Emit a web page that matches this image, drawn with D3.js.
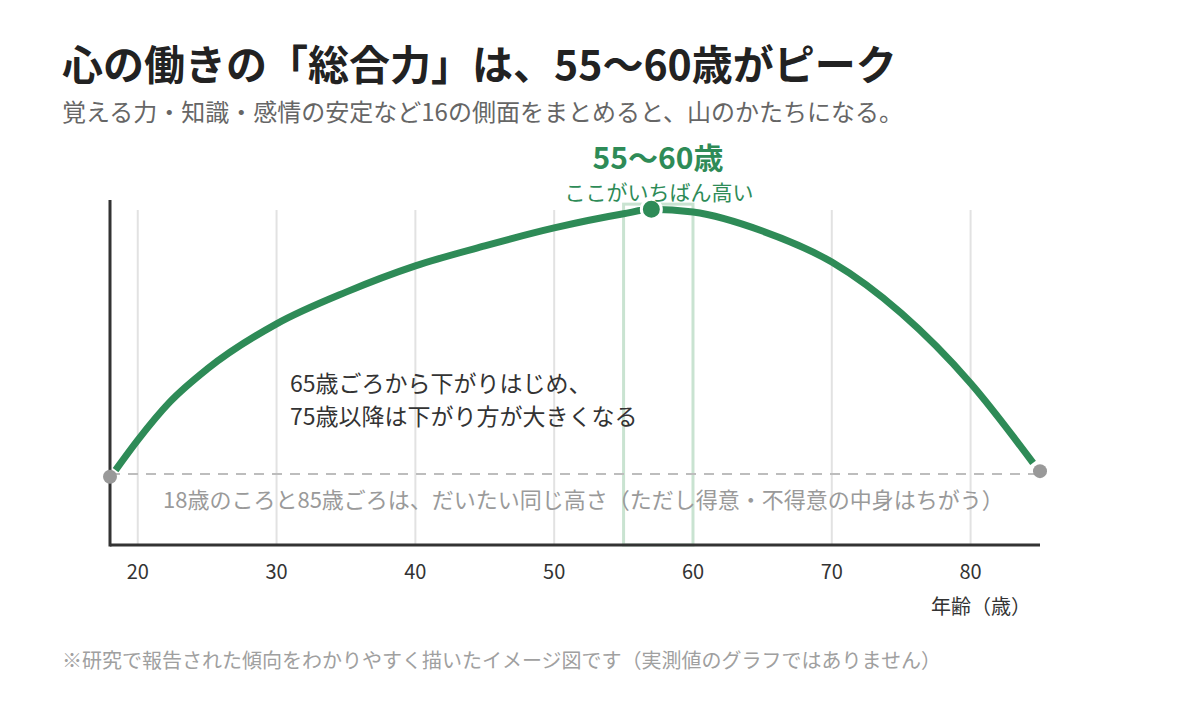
<!DOCTYPE html>
<html>
<head>
<meta charset="utf-8">
<script src="https://cdn.jsdelivr.net/npm/d3@7"></script>
<style>
  body { margin: 0; background: #fff; }
  svg { display: block; font-family: "Noto Sans CJK JP", "Noto Sans", sans-serif; }
</style>
</head>
<body>
<svg id="chart" width="1200" height="720"></svg>
<script>
// 年齢と「総合力」(0-100 のイメージ値)
const ages = [18.4, 20, 22.3, 25, 30, 35, 40, 45, 50, 55, 57, 60, 65, 70, 75, 80, 84.5]
const scores = [21.7, 30.4, 41.4, 51.0, 64.1, 73.3, 80.9, 86.7, 91.9, 96.0, 97.3, 96.5, 91.0, 82.0, 67.2, 46.9, 23.8]
const xTicks = [20, 30, 40, 50, 60, 70, 80]
const peak = { age: 57, score: 97.3 }
const peakBand = [55, 60]
const endPoints = [{ age: 18, score: 19.8 }, { age: 85, score: 21.4 }]
const baseline = 20.6

const green = '#2e8b57'

const svg = d3.select('#chart')
const x = d3.scaleLinear().domain([18, 85]).range([110, 1040])
const y = d3.scaleLinear().domain([0, 100]).range([545, 200])

// title
svg.append('text').attr('x', 62).attr('y', 80)
  .attr('font-size', 41).attr('font-weight', 700).attr('fill', '#222')
  .text('心の働きの「総合力」は、55〜60歳がピーク')
svg.append('text').attr('x', 62).attr('y', 121)
  .attr('font-size', 24).attr('fill', '#666')
  .text('覚える力・知識・感情の安定など16の側面をまとめると、山のかたちになる。')

// grid
svg.append('g').selectAll('line').data(xTicks).join('line')
  .attr('x1', d => x(d)).attr('x2', d => x(d))
  .attr('y1', 210).attr('y2', y(0))
  .attr('stroke', '#e2e2e2').attr('stroke-width', 2)

// peak band
svg.append('rect')
  .attr('x', x(peakBand[0])).attr('y', y(98.8))
  .attr('width', x(peakBand[1]) - x(peakBand[0]))
  .attr('height', y(0) - y(98.8))
  .attr('fill', 'none')
  .attr('stroke', '#c9e3d1').attr('stroke-width', 3)

// baseline
svg.append('line')
  .attr('x1', x(18)).attr('x2', x(85))
  .attr('y1', y(baseline)).attr('y2', y(baseline))
  .attr('stroke', '#bdbdbd').attr('stroke-width', 2)
  .attr('stroke-dasharray', '10,8')

// axes
svg.append('line').attr('x1', x(18)).attr('x2', x(18)).attr('y1', 200).attr('y2', y(0) + 1.5)
  .attr('stroke', '#333').attr('stroke-width', 3)
svg.append('line').attr('x1', x(18)).attr('x2', x(85)).attr('y1', y(0)).attr('y2', y(0))
  .attr('stroke', '#333').attr('stroke-width', 3)

svg.append('g').selectAll('text').data(xTicks).join('text')
  .attr('x', d => x(d)).attr('y', 579)
  .attr('text-anchor', 'middle').attr('font-size', 20).attr('fill', '#333')
  .text(d => d)
svg.append('text').attr('x', 1031).attr('y', 614)
  .attr('text-anchor', 'end').attr('font-size', 20).attr('fill', '#333')
  .text('年齢（歳）')

// curve
const data = ages.map((a, i) => ({ age: a, score: scores[i] }))
const line = d3.line().x(d => x(d.age)).y(d => y(d.score)).curve(d3.curveMonotoneX)
svg.append('path').datum(data).attr('d', line)
  .attr('fill', 'none').attr('stroke', green).attr('stroke-width', 7)
  .attr('stroke-linecap', 'butt')

// end dots
svg.append('g').selectAll('circle').data(endPoints).join('circle')
  .attr('cx', d => x(d.age)).attr('cy', d => y(d.score)).attr('r', 7)
  .attr('fill', '#999')

// peak
svg.append('circle').attr('cx', x(peak.age)).attr('cy', y(peak.score)).attr('r', 10)
  .attr('fill', green).attr('stroke', '#fff').attr('stroke-width', 3)
svg.append('text').attr('x', 658).attr('y', 169)
  .attr('text-anchor', 'middle').attr('font-size', 30).attr('font-weight', 700).attr('fill', green)
  .text('55〜60歳')
svg.append('text').attr('x', 659).attr('y', 200)
  .attr('text-anchor', 'middle').attr('font-size', 21).attr('fill', green)
  .text('ここがいちばん高い')

// notes
svg.append('text').attr('x', 290).attr('y', 392)
  .attr('font-size', 23).attr('fill', '#333')
  .text('65歳ごろから下がりはじめ、')
svg.append('text').attr('x', 290).attr('y', 425)
  .attr('font-size', 23).attr('fill', '#333')
  .text('75歳以降は下がり方が大きくなる')
svg.append('text').attr('x', 163).attr('y', 508)
  .attr('font-size', 22).attr('fill', '#9a9a9a')
  .text('18歳のころと85歳ごろは、だいたい同じ高さ（ただし得意・不得意の中身はちがう）')

svg.append('text').attr('x', 62).attr('y', 668)
  .attr('font-size', 20).attr('fill', '#a0a0a0')
  .text('※研究で報告された傾向をわかりやすく描いたイメージ図です（実測値のグラフではありません）')
</script>
</body>
</html>
